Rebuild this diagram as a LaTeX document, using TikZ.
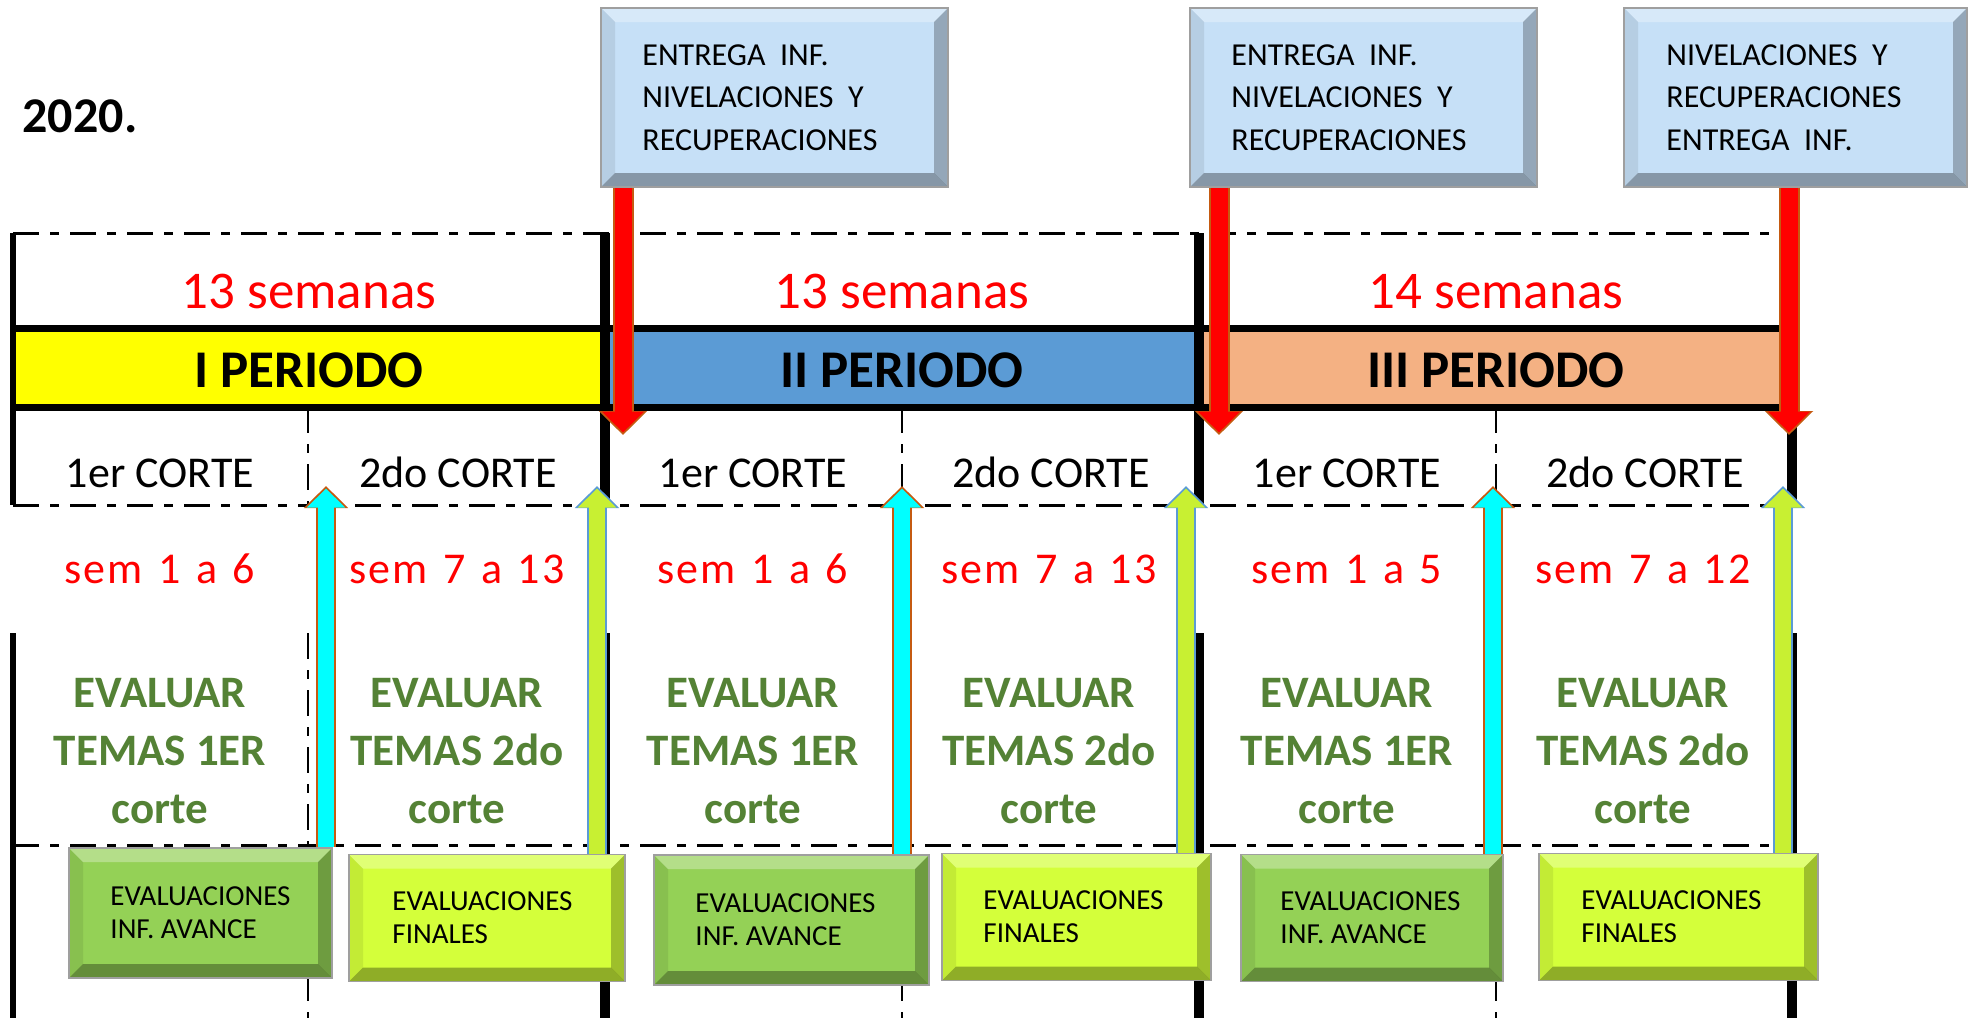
\documentclass[tikz,border=0pt]{standalone}
\usepackage{fontspec}
\setmainfont{Carlito}
\newfontfamily\rangofont[LetterSpace = 4.5, WordSpace = 1.3]{Carlito}
\usepackage{xcolor}
\usepackage{tikz}
\usetikzlibrary{arrows.meta, positioning}

\definecolor{periodoUno}{HTML}{FFFF00}
\definecolor{periodoDos}{HTML}{5B9BD5}
\definecolor{periodoTres}{HTML}{F4B183}
\definecolor{rojo}{HTML}{FF0000}
\definecolor{verdeTexto}{HTML}{548235}
\definecolor{cafe}{HTML}{C55A11}
\definecolor{azulBorde}{HTML}{5B9BD5}
\definecolor{cajaAzul}{HTML}{C6E0F7}
\definecolor{cajaVerde}{HTML}{94D156}
\definecolor{cajaLima}{HTML}{D4FF3A}
\definecolor{cian}{HTML}{00FFFF}
\definecolor{lima}{HTML}{C8F032}

\begin{document}
\begin{tikzpicture}[x = 1pt, y = -1pt,
		bisel/.style = {path picture = {
			\fill [white, opacity = 0.3] (path picture bounding box.north west) -- (path picture bounding box.north east) -- ([shift = {(-14pt,-14pt)}]path picture bounding box.north east) -- ([shift = {(14pt,-14pt)}]path picture bounding box.north west) -- cycle;
			\fill [black, opacity = 0.08] (path picture bounding box.north west) -- ([shift = {(14pt,-14pt)}]path picture bounding box.north west) -- ([shift = {(14pt,14pt)}]path picture bounding box.south west) -- (path picture bounding box.south west) -- cycle;
			\fill [black, opacity = 0.32] (path picture bounding box.south west) -- ([shift = {(14pt,14pt)}]path picture bounding box.south west) -- ([shift = {(-14pt,14pt)}]path picture bounding box.south east) -- (path picture bounding box.south east) -- cycle;
			\fill [black, opacity = 0.25] (path picture bounding box.south east) -- ([shift = {(-14pt,14pt)}]path picture bounding box.south east) -- ([shift = {(-14pt,-14pt)}]path picture bounding box.north east) -- (path picture bounding box.north east) -- cycle;
		}},
		cajaAviso/.style = {bisel, fill = cajaAzul, draw = gray!75, line width = 1.5pt, minimum width = 347pt, minimum height = 179pt, inner sep = 0pt},
		cajaAvance/.style = {bisel, fill = cajaVerde, draw = gray!75, line width = 1.5pt, minimum height = 127pt, inner sep = 0pt},
		cajaFinal/.style = {bisel, fill = cajaLima, draw = gray!75, line width = 1.5pt, minimum height = 127pt, inner sep = 0pt},
		textoAviso/.style = {font = \fontsize{32}{42.5}\selectfont, align = left, inner sep = 0pt},
		textoEval/.style = {font = \fontsize{29}{33}\selectfont, align = left, inner sep = 0pt},
		anioTexto/.style = {font = \bfseries\fontsize{50}{60}\selectfont, anchor = base},
		semanas/.style = {text = rojo, font = \fontsize{53}{64}\selectfont, anchor = base},
		periodo/.style = {font = \bfseries\fontsize{53}{64}\selectfont, anchor = base},
		corte/.style = {font = \fontsize{44}{53}\selectfont, anchor = base},
		rango/.style = {text = rojo, font = \rangofont\fontsize{44}{53}\selectfont, anchor = base},
		evaluar/.style = {text = verdeTexto, font = \bfseries\fontsize{45}{58}\selectfont, align = center},
		linea/.style = {line width = 3pt, dash pattern = on 26pt off 11pt on 9pt off 11pt},
		flechaRoja/.style = {draw = rojo, line width = 17pt, shorten > = 2.5pt, -{Triangle[width = 41pt, length = 21pt]},
			preaction = {draw = cafe, line width = 21pt, shorten > = 0pt, -{Triangle[width = 47pt, length = 24pt]}}},
		flechaCian/.style = {draw = cian, line width = 16pt, shorten > = 2.5pt, -{Triangle[width = 37pt, length = 19pt]},
			preaction = {draw = cafe, line width = 20pt, shorten > = 0pt, -{Triangle[width = 43pt, length = 22pt]}}},
		flechaLima/.style = {draw = lima, line width = 16pt, shorten > = 2.5pt, -{Triangle[width = 37pt, length = 19pt]},
			preaction = {draw = azulBorde, line width = 20pt, shorten > = 0pt, -{Triangle[width = 43pt, length = 22pt]}}}]
	\def\xUno{13};
	\def\xDos{605};
	\def\xTres{1199};
	\def\xCuatro{1792};
	\def\cUno{308};
	\def\cDos{902};
	\def\cTres{1496};
	\def\ySup{233};
	\def\yBandaSup{328};
	\def\yBandaInf{407};
	\def\yCorte{505};
	\def\yEval{633};
	\def\yMedio{845};
	\def\yInf{1018};

	\useasboundingbox (0,0) rectangle (1973,1018);

	\begin{scope}
		\fill [periodoUno] (\xUno,\yBandaSup) rectangle (\xDos,\yBandaInf);
		\fill [periodoDos] (\xDos,\yBandaSup) rectangle (\xTres,\yBandaInf);
		\fill [periodoTres] (\xTres,\yBandaSup) rectangle (\xCuatro,\yBandaInf);
		\draw [line width = 7pt] (\xUno,\yBandaSup) -- (\xCuatro,\yBandaSup);
		\draw [line width = 7pt] (\xUno,\yBandaInf) -- (\xCuatro,\yBandaInf);
	\end{scope}

	\begin{scope}[linea]
		\draw (\xUno,\ySup) -- (\xCuatro,\ySup);
		\draw (\xUno,\yCorte) -- (\xCuatro,\yCorte);
		\draw (\xUno,\yMedio) -- (\xCuatro,\yMedio);
	\end{scope}

	\begin{scope}[linea, line width = 2.5pt]
		\draw (\cUno,\yBandaInf) -- (\cUno,\yCorte);
		\draw (\cDos,\yBandaInf) -- (\cDos,\yCorte);
		\draw (\cTres,\yBandaInf) -- (\cTres,\yCorte);
		\draw (\cUno,\yEval) -- (\cUno,\yInf);
		\draw (\cDos,\yEval) -- (\cDos,\yInf);
		\draw (\cTres,\yEval) -- (\cTres,\yInf);
	\end{scope}

	\begin{scope}[line width = 10pt]
		\draw [line width = 6pt] (\xUno,\ySup) -- (\xUno,\yCorte);
		\draw [line width = 6pt] (\xUno,\yEval) -- (\xUno,\yInf);
		\draw (\xDos,\ySup) -- (\xDos,\yCorte);
		\draw (\xDos,\yEval) -- (\xDos,\yInf);
		\draw (\xTres,\ySup) -- (\xTres,\yCorte);
		\draw (\xTres,\yEval) -- (\xTres,\yInf);
		\draw (\xCuatro,\ySup) -- (\xCuatro,\yCorte);
		\draw (\xCuatro,\yEval) -- (\xCuatro,\yInf);
	\end{scope}

	\node [anioTexto] (anio) at (80,132) {2020.};

	\begin{scope}
		\node [semanas] (semanasI) at (309,308) {13 semanas};
		\node [semanas] (semanasII) at (902,308) {13 semanas};
		\node [semanas] (semanasIII) at (1496,308) {14 semanas};
		\node [periodo] (periodoI) at (309,387) {I PERIODO};
		\node [periodo] (periodoII) at (902,387) {II PERIODO};
		\node [periodo] (periodoIII) at (1496,387) {III PERIODO};
	\end{scope}

	\begin{scope}
		\node [corte] (corteIa) at (160,487) {1er CORTE};
		\node [corte] (corteIb) at (458,487) {2do CORTE};
		\node [corte] (corteIIa) at (753,487) {1er CORTE};
		\node [corte] (corteIIb) at (1051,487) {2do CORTE};
		\node [corte] (corteIIIa) at (1347,487) {1er CORTE};
		\node [corte] (corteIIIb) at (1645,487) {2do CORTE};
	\end{scope}

	\begin{scope}
		\node [rango] (rangoIa) at (160,583) {sem 1 a 6};
		\node [rango] (rangoIb) at (457,583) {sem 7 a 13};
		\node [rango] (rangoIIa) at (753,583) {sem 1 a 6};
		\node [rango] (rangoIIb) at (1049,583) {sem 7 a 13};
		\node [rango] (rangoIIIa) at (1347,583) {sem 1 a 5};
		\node [rango] (rangoIIIb) at (1643,583) {sem 7 a 12};
	\end{scope}

	\begin{scope}
		\node [evaluar] (evalIa) at (160,751) {EVALUAR\\TEMAS 1ER\\corte};
		\node [evaluar] (evalIb) at (457,751) {EVALUAR\\TEMAS 2do\\corte};
		\node [evaluar] (evalIIa) at (753,751) {EVALUAR\\TEMAS 1ER\\corte};
		\node [evaluar] (evalIIb) at (1049,751) {EVALUAR\\TEMAS 2do\\corte};
		\node [evaluar] (evalIIIa) at (1347,751) {EVALUAR\\TEMAS 1ER\\corte};
		\node [evaluar] (evalIIIb) at (1643,751) {EVALUAR\\TEMAS 2do\\corte};
	\end{scope}

	\begin{scope}
		\node [cajaAviso] (avisoA) at (774.5,97.5) {};
		\node [cajaAviso] (avisoB) at (1363.5,97.5) {};
		\node [cajaAviso, minimum width = 343pt] (avisoC) at (1795.5,97.5) {};
		\node [textoAviso, right = 42pt of avisoA.west] (textoA) {ENTREGA~ INF.\\NIVELACIONES~ Y\\RECUPERACIONES};
		\node [textoAviso, right = 42pt of avisoB.west] (textoB) {ENTREGA~ INF.\\NIVELACIONES~ Y\\RECUPERACIONES};
		\node [textoAviso, right = 43pt of avisoC.west] (textoC) {NIVELACIONES~ Y\\RECUPERACIONES\\ENTREGA~ INF.};
	\end{scope}

	\begin{scope}
		\node [cajaAvance, minimum width = 263pt, minimum height = 130pt] (avance1) at (200.5,913) {};
		\node [cajaFinal, minimum width = 276pt] (final1) at (487,918) {};
		\node [cajaAvance, minimum width = 275pt, minimum height = 130pt] (avance2) at (791.5,920) {};
		\node [cajaFinal, minimum width = 269pt] (final2) at (1076.5,917) {};
		\node [cajaAvance, minimum width = 262pt] (avance3) at (1372,918) {};
		\node [cajaFinal, minimum width = 279pt] (final3) at (1678.5,917) {};
		\node [textoEval, right = 42pt of avance1.west] (textoAvance1) {EVALUACIONES\\INF. AVANCE};
		\node [textoEval, right = 44pt of final1.west] (textoFinal1) {EVALUACIONES\\FINALES};
		\node [textoEval, right = 42pt of avance2.west] (textoAvance2) {EVALUACIONES\\INF. AVANCE};
		\node [textoEval, right = 42pt of final2.west] (textoFinal2) {EVALUACIONES\\FINALES};
		\node [textoEval, right = 40pt of avance3.west] (textoAvance3) {EVALUACIONES\\INF. AVANCE};
		\node [textoEval, right = 43pt of final3.west] (textoFinal3) {EVALUACIONES\\FINALES};
	\end{scope}

	\coordinate (puntaRojaA) at (623,435);
	\coordinate (puntaRojaB) at (1219,435);
	\coordinate (puntaRojaC) at (1789,435);
	\coordinate (puntaCian1) at (326,486);
	\coordinate (puntaCian2) at (902,486);
	\coordinate (puntaCian3) at (1493,486);
	\coordinate (puntaLima1) at (597,486);
	\coordinate (puntaLima2) at (1186,486);
	\coordinate (puntaLima3) at (1783,486);

	\begin{scope}
		\draw [flechaRoja] (avisoA.south -| puntaRojaA) -- (puntaRojaA);
		\draw [flechaRoja] (avisoB.south -| puntaRojaB) -- (puntaRojaB);
		\draw [flechaRoja] (avisoC.south -| puntaRojaC) -- (puntaRojaC);
	\end{scope}

	\begin{scope}
		\draw [flechaCian] (avance1.north -| puntaCian1) -- (puntaCian1);
		\draw [flechaCian] (avance2.north -| puntaCian2) -- (puntaCian2);
		\draw [flechaCian] (avance3.north -| puntaCian3) -- (puntaCian3);
		\draw [flechaLima] (final1.north -| puntaLima1) -- (puntaLima1);
		\draw [flechaLima] (final2.north -| puntaLima2) -- (puntaLima2);
		\draw [flechaLima] (final3.north -| puntaLima3) -- (puntaLima3);
	\end{scope}
\end{tikzpicture}
\end{document}
